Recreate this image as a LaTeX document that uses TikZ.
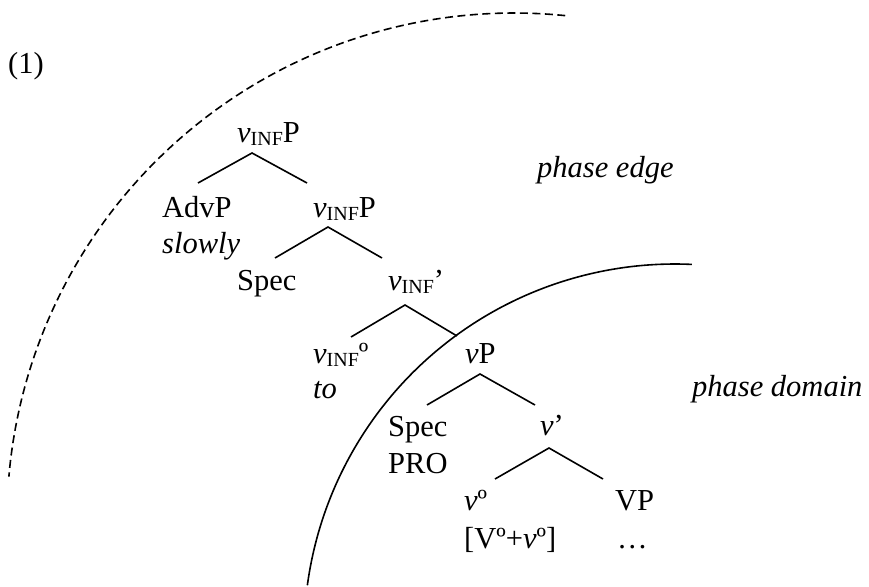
\documentclass[tikz,border=0pt]{standalone}
\usepackage{fontspec}
\setmainfont{Liberation Serif}
\newcommand\mainsz{\fontsize{30.5}{36}\selectfont}
\newcommand\subsz{\fontsize{20}{24}\selectfont}
\newcommand\vinf{\textit{v}\raisebox{-3pt}{\subsz INF}}
\begin{document}
\begin{tikzpicture}[x=1pt,y=-1pt,
  lbl/.style={inner sep=0pt, anchor=base west, font=\mainsz},
  branch/.style={line width=1.6pt},
  edgearc/.style={line width=1.6pt, dash pattern=on 8pt off 4.5pt},
  domarc/.style={line width=1.6pt}]
\fill[white] (0,0) rectangle (869,586);
\useasboundingbox (0,0) rectangle (869,586);
% labels
\node[lbl] (ex) at (8,73) {(1)};
\node[lbl] (top) at (237,142) {\vinf P};
\node[lbl] (advp) at (162,217) {AdvP};
\node[lbl] (slowly) at (162,253) {\textit{slowly}};
\node[lbl] (vinfp) at (313,217) {\vinf P};
\node[lbl] (spec1) at (237,290) {Spec};
\node[lbl] (vinfbar) at (388,290) {\vinf’};
\node[lbl] (vinfhead) at (313,363) {\vinf º};
\node[lbl] (to) at (313,398) {\textit{to}};
\node[lbl] (vp) at (465,363) {\textit{v}P};
\node[lbl] (spec2) at (388,436) {Spec};
\node[lbl] (pro) at (388,473) {PRO};
\node[lbl] (vbar) at (540,435) {\textit{v}’};
\node[lbl] (vhead) at (464,510) {\textit{v}º};
\node[lbl] (vcomp) at (464,548) {[Vº+\textit{v}º]};
\node[lbl] (VP) at (615,510) {VP};
\node[lbl] (dots) at (617,548) {…};
\node[lbl] (pedge) at (537,177) {\textit{phase edge}};
\node[lbl] (pdom) at (692,396) {\textit{phase domain}};
% branch points
\coordinate (a1) at (252,153); \coordinate (l1) at (198,183); \coordinate (r1) at (307,183);
\coordinate (a2) at (328,227); \coordinate (l2) at (275,258); \coordinate (r2) at (382,258);
\coordinate (a3) at (405,305); \coordinate (l3) at (351,337); \coordinate (r3) at (457,336);
\coordinate (a4) at (480,374); \coordinate (l4) at (427,405); \coordinate (r4) at (535,405);
\coordinate (a5) at (549,448); \coordinate (l5) at (495,479); \coordinate (r5) at (603,479);
\draw[branch] (l1) -- (a1) -- (r1);
\draw[branch] (l2) -- (a2) -- (r2);
\draw[branch] (l3) -- (a3) -- (r3);
\draw[branch] (l4) -- (a4) -- (r4);
\draw[branch] (l5) -- (a5) -- (r5);
% arcs
\draw[edgearc] plot[domain=-84.2:-175.1, samples=90, smooth] ({514+507*cos(\x)},{520+507*sin(\x)});
\draw[domarc] plot[domain=-87.4:-172.3, samples=90, smooth] ({675+371*cos(\x)},{635+371*sin(\x)});
\end{tikzpicture}
\end{document}
